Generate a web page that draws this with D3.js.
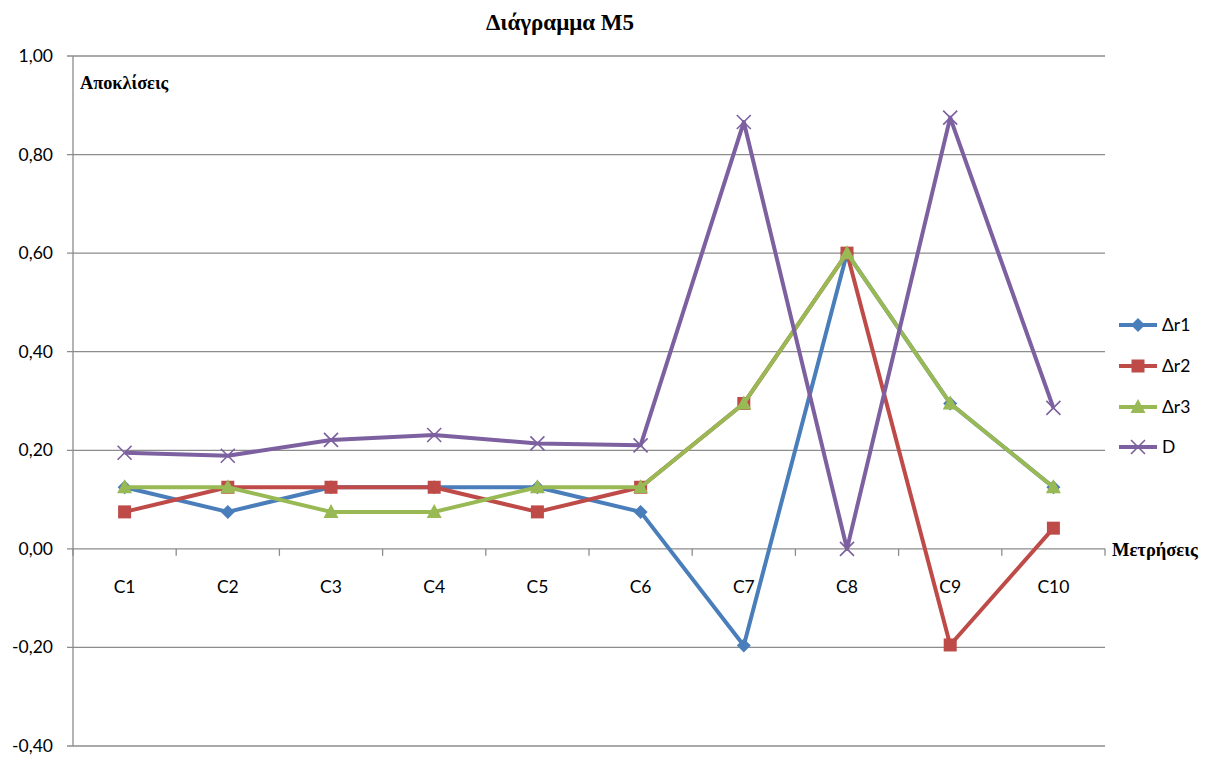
<!DOCTYPE html>
<html><head><meta charset="utf-8">
<script src="https://cdn.jsdelivr.net/npm/d3@7"></script>
<style>body{margin:0;background:#fff}svg{display:block}</style>
</head><body><svg id="c" width="1211" height="758"></svg>
<script>
const categories = ["C1","C2","C3","C4","C5","C6","C7","C8","C9","C10"];
const dr1 = [0.125,0.075,0.125,0.125,0.125,0.075,-0.196,0.60,0.295,0.125];
const dr2 = [0.075,0.125,0.125,0.125,0.075,0.125,0.295,0.60,-0.195,0.042];
const dr3 = [0.125,0.125,0.075,0.075,0.125,0.125,0.295,0.60,0.295,0.125];
const dD  = [0.195,0.189,0.221,0.231,0.214,0.210,0.866,0.0,0.875,0.286];
const seriesNames = ["Δr1","Δr2","Δr3","D"];
const yTicks = [-0.4,-0.2,0,0.2,0.4,0.6,0.8,1.0];
const title = "Διάγραμμα M5";
const yTitle = "Αποκλίσεις";
const xTitle = "Μετρήσεις";

const colors = ["#4A7EBB","#BE4B48","#98B954","#7D60A0"];
const markers = ["diamond","square","triangle","x"];
const data = [dr1,dr2,dr3,dD];

const svg = d3.select("#c");
const L = 73, R = 1105, T = 56, B = 746;
const x = d3.scaleBand().domain(categories).range([L,R]);
const y = d3.scaleLinear().domain([-0.4,1.0]).range([B,T]);
const fmt = v => d3.format(".2f")(v).replace(".",",").replace("−","-");

// gridlines
svg.append("g").selectAll("line").data(yTicks).join("line")
  .attr("x1",L-6).attr("x2",R).attr("y1",d=>y(d)).attr("y2",d=>y(d))
  .attr("stroke","#8c8c8c").attr("stroke-width",1.3);
// y axis line
svg.append("line").attr("x1",L).attr("x2",L).attr("y1",T).attr("y2",B)
  .attr("stroke","#8c8c8c").attr("stroke-width",1.3);
// y labels
svg.append("g").selectAll("text").data(yTicks).join("text")
  .attr("x",53).attr("y",d=>y(d)+6).attr("text-anchor","end")
  .attr("font-family","Lato").attr("font-size",17.5).attr("fill","#000")
  .text(d=>fmt(d));
// category ticks
const edges = categories.map(c=>x(c)).concat([R]);
svg.append("g").selectAll("line").data(edges).join("line")
  .attr("x1",d=>d).attr("x2",d=>d).attr("y1",y(0)).attr("y2",y(0)+7)
  .attr("stroke","#8c8c8c").attr("stroke-width",1.3);
svg.append("g").selectAll("text").data(categories).join("text")
  .attr("x",d=>x(d)+x.bandwidth()/2).attr("y",y(0)+44).attr("text-anchor","middle")
  .attr("font-family","Lato").attr("font-size",17.5).attr("fill","#000")
  .text(d=>d);

// titles
svg.append("text").attr("x",560).attr("y",30).attr("text-anchor","middle")
  .attr("font-family","Liberation Serif").attr("font-weight","bold").attr("font-size",23).text(title);
svg.append("text").attr("x",80).attr("y",89)
  .attr("font-family","Liberation Serif").attr("font-weight","bold").attr("font-size",18.3).text(yTitle);
svg.append("text").attr("x",1112).attr("y",556)
  .attr("font-family","Liberation Serif").attr("font-weight","bold").attr("font-size",18.5).text(xTitle);

function drawMarker(g, type, color, cx, cy){
  if(type==="diamond"){
    g.append("path").attr("d",`M${cx},${cy-7}L${cx+7},${cy}L${cx},${cy+7}L${cx-7},${cy}Z`).attr("fill",color);
  } else if(type==="square"){
    g.append("rect").attr("x",cx-6.5).attr("y",cy-6.5).attr("width",13).attr("height",13).attr("fill",color);
  } else if(type==="triangle"){
    g.append("path").attr("d",`M${cx},${cy-8}L${cx+7.5},${cy+6}L${cx-7.5},${cy+6}Z`).attr("fill",color);
  } else {
    g.append("path").attr("d",`M${cx-7},${cy-7}L${cx+7},${cy+7}M${cx-7},${cy+7}L${cx+7},${cy-7}`)
      .attr("stroke",color).attr("stroke-width",1.6).attr("fill","none");
  }
}

const line = d3.line().x((d,i)=>x(categories[i])+x.bandwidth()/2).y(d=>y(d));
data.forEach((s,k)=>{
  const g = svg.append("g");
  g.append("path").datum(s).attr("d",line).attr("fill","none")
    .attr("stroke",colors[k]).attr("stroke-width",4).attr("stroke-linejoin","round");
  s.forEach((v,i)=>drawMarker(g,markers[k],colors[k],x(categories[i])+x.bandwidth()/2,y(v)));
});

// legend
const legY = [325,366,407,447];
seriesNames.forEach((n,k)=>{
  const g = svg.append("g");
  g.append("line").attr("x1",1119).attr("x2",1157).attr("y1",legY[k]).attr("y2",legY[k])
    .attr("stroke",colors[k]).attr("stroke-width",3.8);
  drawMarker(g,markers[k],colors[k],1138,legY[k]);
  g.append("text").attr("x",1162).attr("y",legY[k]+6).attr("font-family","Lato")
    .attr("font-size",17.5).text(n);
});
</script></body></html>
